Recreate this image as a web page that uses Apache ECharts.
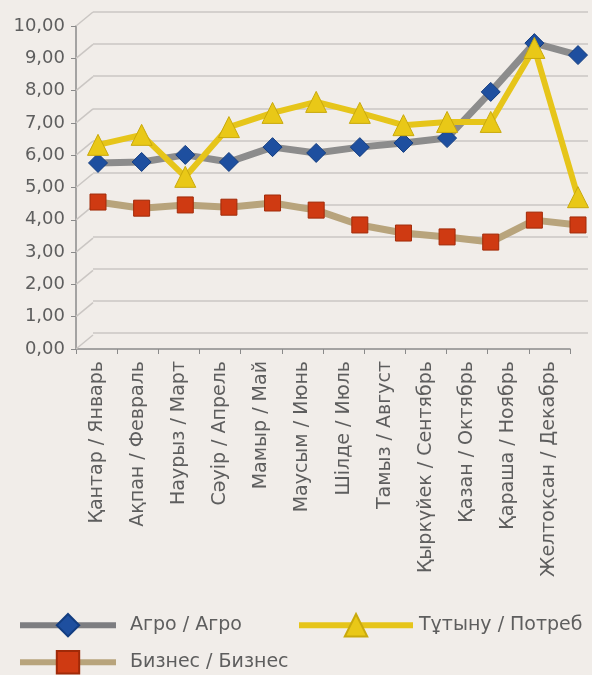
<!DOCTYPE html>
<html>
<head>
<meta charset="utf-8">
<script src="https://cdn.jsdelivr.net/npm/echarts@6/dist/echarts.min.js"></script>
<style>
html,body{margin:0;padding:0;background:#f1ede9;}
#c{width:592px;height:675px;}
</style>
</head>
<body>
<div id="c"></div>
<script>
const months = ['Қантар / Январь','Ақпан / Февраль','Наурыз / Март','Сәуір / Апрель','Мамыр / Май','Маусым / Июнь','Шілде / Июль','Тамыз / Август','Қыркүйек / Сентябрь','Қазан / Октябрь','Қараша / Ноябрь','Желтоқсан / Декабрь'];
const agro = [5.76, 5.79, 6.01, 5.79, 6.25, 6.07, 6.25, 6.38, 6.53, 7.96, 9.47, 9.10];
const potreb = [6.32, 6.63, 5.33, 6.87, 7.31, 7.65, 7.31, 6.93, 7.03, 7.03, 9.32, 4.70];
const biznes = [4.55, 4.36, 4.46, 4.39, 4.52, 4.30, 3.84, 3.59, 3.47, 3.31, 3.99, 3.84];
const yTicks = [0,1,2,3,4,5,6,7,8,9,10];

const nameAgro = 'Агро / Агро';
const namePotreb = 'Тұтыну / Потреб';
const nameBiz = 'Бизнес / Бизнес';
const FONT = 'DejaVu Sans';
const TXT = '#5e5e5e';

const chart = echarts.init(document.getElementById('c'));
function mkLegend(left, top, width, name, pad, lineColor) {
  return {
    orient: 'horizontal', left: left, top: top, padding: 0,
    itemWidth: width, itemHeight: 28, selectedMode: false,
    data: [name],
    lineStyle: {width: 6, color: lineColor},
    textStyle: {fontFamily: FONT, fontSize: 19, color: TXT, padding: [0,0,0,pad]}
  };
}
chart.setOption({
  backgroundColor: '#f1ede9',
  animation: false,
  grid: [
    {left: 76, right: 22, top: 26, bottom: 326},   // front axes
    {left: 93, right: 4, top: 12, bottom: 342},    // back wall
    {left: 98, right: 14, top: 26, bottom: 326}    // data plane
  ],
  xAxis: [
    {gridIndex: 0, type: 'category', data: months, boundaryGap: true,
     axisLine: {lineStyle: {color: '#8a8a8a', width: 1.5}},
     axisTick: {show: true, length: 5, inside: false, lineStyle: {color: '#8a8a8a'}},
     axisLabel: {rotate: 90, interval: 0, margin: 12, fontFamily: FONT, fontSize: 19, color: TXT}},
    {gridIndex: 1, type: 'category', data: months, show: false},
    {gridIndex: 2, type: 'category', data: months, boundaryGap: false, show: false}
  ],
  yAxis: [
    {gridIndex: 0, type: 'value', min: 0, max: 10, interval: 1,
     axisLine: {show: true, lineStyle: {color: '#8a8a8a', width: 1.5}},
     axisTick: {show: true, length: 5, lineStyle: {color: '#8a8a8a'}},
     splitLine: {show: false},
     axisLabel: {margin: 11, fontFamily: FONT, fontSize: 18, color: TXT,
       formatter: v => v.toFixed(2).replace('.', ',')}},
    {gridIndex: 1, type: 'value', min: 0, max: 10, interval: 1,
     axisLine: {show: false}, axisTick: {show: false}, axisLabel: {show: false},
     splitLine: {show: true, lineStyle: {color: '#cac6c3', width: 1.5}}},
    {gridIndex: 2, type: 'value', min: 0, max: 10, interval: 1, show: false,
     splitLine: {show: false}}
  ],
  legend: [
    mkLegend(17, 613, 96, nameAgro, 9, '#7d7d80'),
    mkLegend(296, 613, 114, namePotreb, 1, '#e6c51a'),
    mkLegend(17, 650, 96, nameBiz, 9, '#b8a47c')
  ],
  series: [
    {
      type: 'custom', xAxisIndex: 0, yAxisIndex: 0, silent: true, z: 1,
      data: yTicks,
      renderItem: function (params, api) {
        const v = api.value(0);
        const p = api.coord([0, v]);
        const x0 = params.coordSys.x;
        return {type: 'line', shape: {x1: x0, y1: p[1], x2: x0 + 17, y2: p[1] - 14},
          style: {stroke: '#cac6c3', lineWidth: 1.5}};
      },
      encode: {y: 0}
    },
    {
      name: nameBiz, type: 'line', xAxisIndex: 2, yAxisIndex: 2, data: biznes, z: 3,
      symbol: 'rect', symbolSize: 16,
      lineStyle: {color: '#b8a47c', width: 7},
      itemStyle: {color: '#cf3a12', borderColor: '#a02a08', borderWidth: 1}
    },
    {
      name: nameAgro, type: 'line', xAxisIndex: 2, yAxisIndex: 2, data: agro, z: 4,
      symbol: 'diamond', symbolSize: 19,
      lineStyle: {color: '#8c8c8c', width: 7},
      itemStyle: {color: '#1e4f9f', borderColor: '#133d80', borderWidth: 1}
    },
    {
      name: namePotreb, type: 'line', xAxisIndex: 2, yAxisIndex: 2, data: potreb, z: 5,
      symbol: 'triangle', symbolSize: 21,
      lineStyle: {color: '#e6c51a', width: 6},
      itemStyle: {color: '#e9c817', borderColor: '#c9a90c', borderWidth: 1}
    }
  ]
});
</script>
</body>
</html>
